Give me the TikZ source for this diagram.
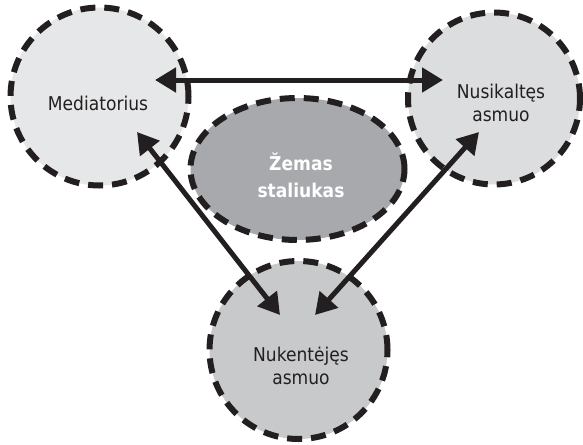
\documentclass[tikz,border=0pt]{standalone}
\usepackage{fontspec}
\setmainfont{DejaVu Sans}[FakeStretch=0.9]
\usetikzlibrary{arrows.meta,shapes.geometric}
\definecolor{ink}{HTML}{231F20}
\definecolor{fillmed}{HTML}{E6E7E8}
\definecolor{fillnus}{HTML}{DCDDDE}
\definecolor{fillnuk}{HTML}{C8C9CB}
\definecolor{filltab}{HTML}{A7A9AC}
\begin{document}
\begin{tikzpicture}[x=1pt,y=-1pt,
  dashedrim/.style={draw=ink, line width=6pt, dash pattern=on 15pt off 9pt, inner sep=0pt},
  party/.style={dashedrim, circle},
  tablebox/.style={dashedrim, ellipse, fill=filltab},
  caption/.style={font=\fontsize{19}{23}\selectfont, text=ink, align=center, inner sep=0pt},
  tablecaption/.style={font=\fontsize{19}{27}\selectfont\bfseries, text=white, align=center, inner sep=0pt},
  link/.style={draw=ink, line width=5pt, {Triangle[length=21pt,width=24pt]}-{Triangle[length=21pt,width=24pt]}}
]
\useasboundingbox (0,0) rectangle (583,444);

% the three parties
\node[party, fill=fillmed, minimum size=178pt] (med) at (99.5,96.5) {};
\node[party, fill=fillnus, minimum size=172pt] (nus) at (494,98.5) {};
\node[party, fill=fillnuk, minimum size=178pt] (nuk) at (298.5,350) {};

% the low table in the middle
\node[tablebox, minimum width=214pt, minimum height=142pt] (tab) at (297.5,169) {};

% captions
\node[caption] (medtxt) at (98,103) {Mediatorius};
\node[caption] (nustxt) at (501,103) {Nusikaltęs\\asmuo};
\node[caption] (nuktxt) at (301,366) {Nukentėjęs\\asmuo};
\node[tablecaption] (tabtxt) at (301,175) {Žemas\\staliukas};

% arrow ends inside the circles
\coordinate (medE) at (155,80);
\coordinate (nusW) at (443,80);
\coordinate (medS) at (137,132);
\coordinate (nusS) at (479,132);
\coordinate (nukL) at (280,315);
\coordinate (nukR) at (315,315);

% links between the parties
\draw[link] (medE) -- (nusW);
\draw[link] (medS) -- (nukL);
\draw[link] (nusS) -- (nukR);
\end{tikzpicture}
\end{document}
